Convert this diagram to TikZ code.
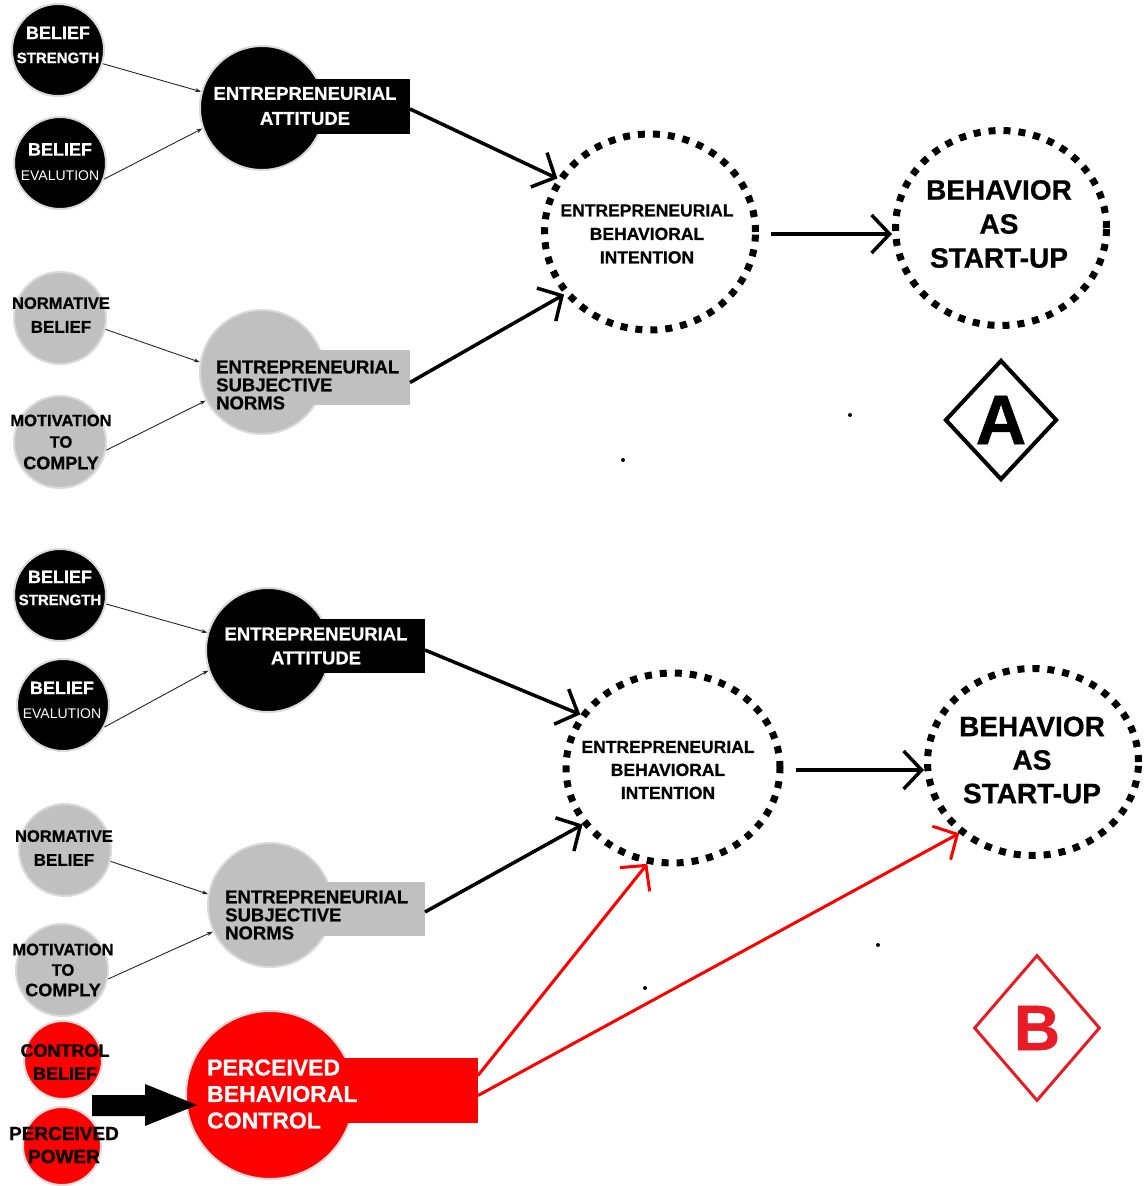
\documentclass[tikz,border=0pt]{standalone}
\usepackage{fontspec}
\setmainfont{Liberation Sans}[BoldFeatures={FakeBold=0.8}]
\usetikzlibrary{arrows.meta,shapes.geometric}
\definecolor{leafgray}{RGB}{192,192,192}
\definecolor{rimgray}{RGB}{218,218,218}
\definecolor{markred}{RGB}{232,28,36}
\newcommand{\ftsize}[2]{\fontsize{#1}{#2}\selectfont}
\tikzset{
	leafnode/.style={circle,minimum size=92pt,inner sep=0pt,draw=rimgray,line width=2pt},
	rednode/.style={leafnode,fill=red,minimum size=78pt},
	hubnode/.style={circle,minimum size=124pt,inner sep=0pt,draw=rimgray,line width=2pt},
	tagbox/.style={rectangle,inner sep=0pt,anchor=east,minimum width=148pt,minimum height=55pt},
	txtnode/.style={inner sep=0pt,align=center},
	dotring/.style={ellipse,draw,line width=7pt,dash pattern=on 7pt off 8pt,inner sep=0pt},
	feedarrow/.style={-{Stealth[length=6pt,width=4pt]},line width=0.9pt,black!85},
	pusharrow/.style={-{Straight Barb[length=18pt,width=38pt]},line width=3.5pt},
	redarrow/.style={-{Straight Barb[length=18pt,width=38pt]},red,line width=3pt},
	speck/.style={circle,fill,inner sep=0pt,minimum size=4pt},
	markbox/.style={diamond,draw,inner sep=0pt,font=\bfseries}
}
\begin{document}
\begin{tikzpicture}[x=1pt,y=-1pt]
		\useasboundingbox (0,0) rectangle (1145,1186);
		% panel A
		\node[leafnode,fill=black] (bsA) at (58,50) {};
		\node[txtnode,white,font=\bfseries\ftsize{18}{24}] (bsAt) at (58,45) {BELIEF\\\ftsize{15}{24}STRENGTH};
		\node[leafnode,fill=black] (beA) at (60,163) {};
		\node[txtnode,white,font=\bfseries\ftsize{18}{25}] (beAt) at (60,162) {BELIEF\\\mdseries\ftsize{14}{25}EVALUTION};
		\node[leafnode,fill=leafgray] (nbA) at (60,318) {};
		\node[txtnode,font=\bfseries\ftsize{16.5}{24}] (nbAt) at (61,315) {NORMATIVE\\\ftsize{17}{24}BELIEF};
		\node[leafnode,fill=leafgray] (mcA) at (60,442) {};
		\node[txtnode,font=\bfseries\ftsize{16.5}{21.5}] (mcAt) at (61,442) {MOTIVATION\\TO\\\ftsize{18}{21.5}COMPLY};
		\node[hubnode,fill=black] (eaA) at (262,108) {};
		\node[tagbox,fill=black] (eaAtag) at (410,106) {};
		\node[txtnode,white,font=\bfseries\ftsize{18.5}{25}] (eaAt) at (305,106) {ENTREPRENEURIAL\\ATTITUDE};
		\node[hubnode,fill=leafgray] (esnA) at (262,372) {};
		\node[tagbox,fill=leafgray] (esnAtag) at (410,377.5) {};
		\node[txtnode,align=left,anchor=west,font=\bfseries\ftsize{18.5}{18}] (esnAt) at (216,385) {ENTREPRENEURIAL\\SUBJECTIVE\\NORMS};
		\node[dotring,minimum width=211pt,minimum height=196pt] (ebiA) at (650,232) {};
		\node[txtnode,font=\bfseries\ftsize{17.5}{23.5}] (ebiAt) at (647,234) {ENTREPRENEURIAL\\BEHAVIORAL\\INTENTION};
		\node[dotring,minimum width=211pt,minimum height=195pt] (basA) at (1001,228) {};
		\node[txtnode,font=\bfseries\ftsize{28}{34}] (basAt) at (999,224) {BEHAVIOR\\AS\\START-UP};
		\node[markbox,line width=4pt,minimum width=112pt,minimum height=120pt,font=\bfseries\ftsize{70}{70}] (markA) at (1001,420) {A};
		\node[speck] (speckA1) at (850,415) {};
		\node[speck] (speckA2) at (623,460) {};

		\draw[feedarrow] (bsA.-17) -- (eaA.165);
		\draw[feedarrow] (beA.-20) -- (eaA.199);
		\draw[feedarrow] (nbA.-14) -- (esnA.171);
		\draw[feedarrow] (mcA.-10) -- (esnA.207);
		\draw[pusharrow] ([yshift=-3pt]eaAtag.east) -- (ebiA.150);
		\draw[pusharrow] ([yshift=-5pt]esnAtag.east) -- (ebiA.216);
		\draw[pusharrow,shorten <=12pt] ([yshift=-2pt]ebiA.east) -- ([yshift=-6pt]basA.west);

		% panel B
		\node[leafnode,fill=black] (bsB) at (60,595) {};
		\node[txtnode,white,font=\bfseries\ftsize{18}{22}] (bsBt) at (60,588) {BELIEF\\\ftsize{15}{22}STRENGTH};
		\node[leafnode,fill=black] (beB) at (63,705) {};
		\node[txtnode,white,font=\bfseries\ftsize{18}{24}] (beBt) at (62,700) {BELIEF\\\mdseries\ftsize{14}{24}EVALUTION};
		\node[leafnode,fill=leafgray] (nbB) at (65,850) {};
		\node[txtnode,font=\bfseries\ftsize{16.5}{24}] (nbBt) at (64,848) {NORMATIVE\\\ftsize{17}{24}BELIEF};
		\node[leafnode,fill=leafgray] (mcB) at (62,970) {};
		\node[txtnode,font=\bfseries\ftsize{16.5}{20.5}] (mcBt) at (63,970) {MOTIVATION\\TO\\\ftsize{18}{20.5}COMPLY};
		\node[hubnode,fill=black] (eaB) at (268,650) {};
		\node[tagbox,fill=black,minimum height=54pt] (eaBtag) at (425,646) {};
		\node[txtnode,white,font=\bfseries\ftsize{18.5}{24}] (eaBt) at (316,646) {ENTREPRENEURIAL\\ATTITUDE};
		\node[hubnode,fill=leafgray] (esnB) at (270,905) {};
		\node[tagbox,fill=leafgray,minimum height=54pt] (esnBtag) at (425,909) {};
		\node[txtnode,align=left,anchor=west,font=\bfseries\ftsize{18.5}{18}] (esnBt) at (225,915) {ENTREPRENEURIAL\\SUBJECTIVE\\NORMS};
		\node[dotring,minimum width=214pt,minimum height=190pt] (ebiB) at (673,768) {};
		\node[txtnode,font=\bfseries\ftsize{17.5}{23}] (ebiBt) at (668,770) {ENTREPRENEURIAL\\BEHAVIORAL\\INTENTION};
		\node[dotring,minimum width=211pt,minimum height=187pt] (basB) at (1033,762) {};
		\node[txtnode,font=\bfseries\ftsize{28}{33.5}] (basBt) at (1032,760) {BEHAVIOR\\AS\\START-UP};
		\node[rednode] (cbB) at (63,1060) {};
		\node[txtnode,font=\bfseries\ftsize{18}{23}] (cbBt) at (65,1062) {CONTROL\\BELIEF};
		\node[rednode] (ppB) at (62,1146) {};
		\node[txtnode,font=\bfseries\ftsize{19}{23}] (ppBt) at (64,1145) {PERCEIVED\\POWER};
		\node[hubnode,fill=red,minimum size=168pt] (pbcB) at (270,1095) {};
		\node[tagbox,fill=red,minimum width=208pt,minimum height=65pt] (pbcBtag) at (478,1090.5) {};
		\node[txtnode,white,align=left,anchor=west,font=\bfseries\ftsize{23}{26.5}] (pbcBt) at (207,1094) {PERCEIVED\\BEHAVIORAL\\CONTROL};
		\node[markbox,draw=markred,text=markred,line width=3pt,minimum width=126pt,minimum height=146pt,font=\bfseries\ftsize{64}{64}] (markB) at (1037,1028) {B};
		\node[speck] (speckB1) at (878,945) {};
		\node[speck] (speckB2) at (645,988) {};

		\draw[feedarrow] (bsB.-11) -- (eaB.164);
		\draw[feedarrow] (beB.-28) -- (eaB.199);
		\draw[feedarrow] (nbB.-14) -- (esnB.170);
		\draw[feedarrow] (mcB.-11) -- (esnB.205);
		\draw[pusharrow] ([yshift=-4pt]eaBtag.east) -- (ebiB.150);
		\draw[pusharrow] ([yshift=-3pt]esnBtag.east) -- (ebiB.212);
		\draw[pusharrow,shorten <=12pt] ([yshift=-2pt]ebiB.east) -- ([yshift=-8pt]basB.west);
		\draw[redarrow] ([yshift=15pt]pbcBtag.east) -- (ebiB.255);
		\draw[redarrow] ([yshift=-5pt]pbcBtag.east) -- (basB.224);
		\coordinate (blkTail) at (92,1105);
		\fill (blkTail) ++(0,-10) -- (145,1095) -- (145,1084) -- (197,1105) -- (145,1126) -- (145,1116) -- (92,1116) -- cycle;
\end{tikzpicture}
\end{document}
